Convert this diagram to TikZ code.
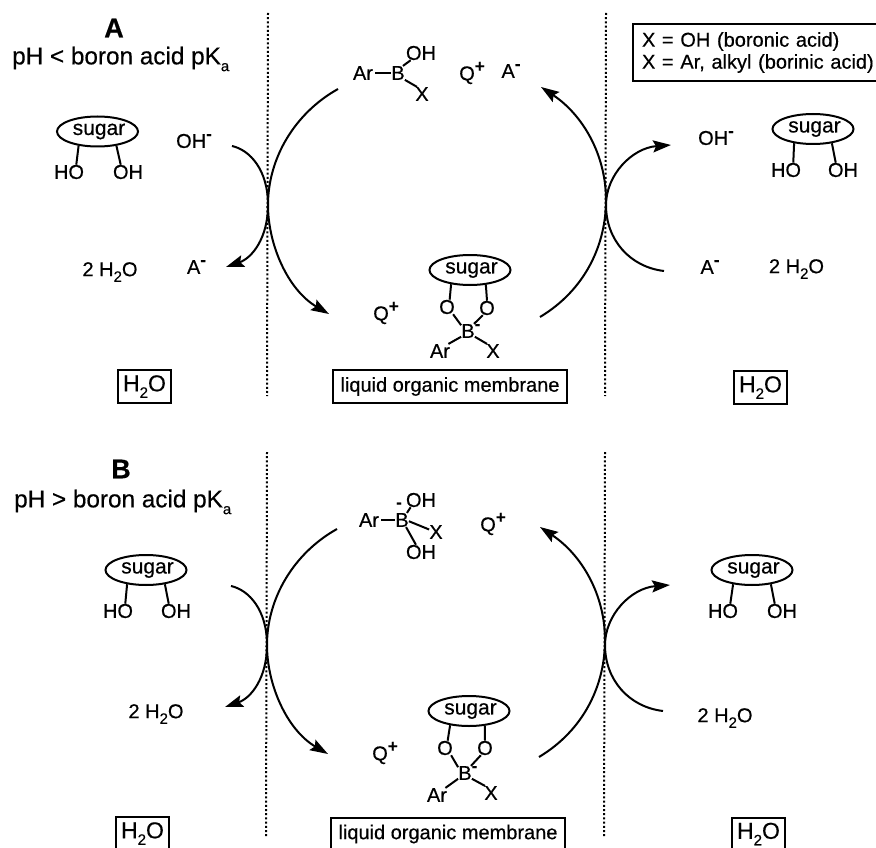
\documentclass[tikz,border=0pt]{standalone}
\usepackage{fontspec}
\setmainfont[FakeBold=0.45]{Liberation Sans}
\usetikzlibrary{arrows.meta,shapes.geometric}
\newcommand{\ssub}[1]{\raisebox{-0.28em}{\fontsize{15}{15}\selectfont #1}}
\newcommand{\ssup}[1]{\raisebox{0.42em}{\fontsize{17}{17}\selectfont\bfseries #1}}
\tikzset{
  chem/.style={inner sep=0pt, font=\fontsize{20}{22}\selectfont},
  tag/.style={chem, draw, line width=2pt, minimum height=33pt},
  watertag/.style={tag, minimum width=53pt, font=\fontsize{23}{25}\selectfont},
  sugar/.style={chem, draw, ellipse, line width=2pt, minimum width=81pt, minimum height=30pt, font=\fontsize{21}{22}\selectfont},
  heading/.style={chem, anchor=west, font=\fontsize{24.3}{26}\selectfont},
  panel/.style={chem, font=\fontsize{27}{28}\selectfont\bfseries},
  bond/.style={line width=2pt},
  membrane/.style={line width=2pt, dash pattern=on 2pt off 2.2pt},
  flowtip/.style={line width=2pt, -{Stealth[length=18pt, width=12pt, inset=3pt]}},
}
\begin{document}
\begin{tikzpicture}[x=1pt, y=-1pt]
    \useasboundingbox (0,0) rectangle (876,848);

    % membranes and arcs, same for both panels
    \foreach \p/\dx/\dy/\ya/\yb in {A/0/0/13/396, B/-1/440/12/398} {
      \begin{scope}[shift={(\dx,\dy)}]
        \coordinate (\p ml1) at (268,\ya);
        \coordinate (\p ml2) at (267,\yb);
        \coordinate (\p mr1) at (606,\ya);
        \coordinate (\p mr2) at (605,\yb);
        \draw[membrane] (\p ml1) -- (\p ml2);
        \draw[membrane] (\p mr1) -- (\p mr2);

        \coordinate (\p lbs) at (338,89);
        \coordinate (\p lbm) at (268,205);
        \coordinate (\p lbe) at (329,314);
        \coordinate (\p lss) at (232,146);
        \coordinate (\p lsm) at (268,205);
        \coordinate (\p lse) at (226,267);
        \coordinate (\p rbs) at (540,317);
        \coordinate (\p rbm) at (606,200);
        \coordinate (\p rbe) at (541,87);
        \coordinate (\p rss) at (664,271);
        \coordinate (\p rsm) at (606,205);
        \coordinate (\p rse) at (671,145);

        \draw[flowtip] (\p lbs) .. controls (295,113) and (268,158) .. (\p lbm)
                                .. controls (268,245) and (288,290) .. (\p lbe);
        \draw[flowtip] (\p lss) .. controls (250,150) and (268,170) .. (\p lsm)
                                .. controls (268,238) and (252,258) .. (\p lse);
        \draw[flowtip] (\p rbs) .. controls (585,290) and (606,245) .. (\p rbm)
                                .. controls (606,155) and (583,115) .. (\p rbe);
        \draw[flowtip] (\p rss) .. controls (630,267) and (606,240) .. (\p rsm)
                                .. controls (606,175) and (632,148) .. (\p rse);
      \end{scope}
    }

    % panel A
    \node[panel] (Atitle) at (114,28) {A};
    \node[heading] (Aph) at (12,59) {pH < boron acid pK\ssub{a}};

    \node[sugar] (Asugl) at (97.5,131.5) {\hspace*{3pt}sugar};
    \node[chem] (Ahol) at (69,172) {HO};
    \node[chem] (Aohl) at (128,172) {OH};
    \draw[bond] (Asugl.-143) -- (Ahol.45);
    \draw[bond] (Asugl.-37) -- (Aohl.135);
    \node[chem] (Aoh) at (194,141) {OH\ssup{-}};
    \node[chem] (Awl) at (110,272) {2 H\ssub{2}O};
    \node[chem] (Aal) at (196.5,267) {A\ssup{-}};
    \node[watertag] (Ah2ol) at (144.5,386.5) {H\ssub{2}O};

    \node[chem] (Aar) at (363,73) {Ar};
    \node[chem] (Ab) at (398,73) {B};
    \node[chem] (Aoh1) at (421,53) {OH};
    \node[chem] (Ax) at (422,94) {X};
    \draw[bond] (Aar.east) ++(2,0) -- (Ab.west);
    \draw[bond] (Ab.55) -- (Aoh1.-145);
    \draw[bond] (Ab.-45) -- (Ax.125);
    \node[chem] (Aqt) at (472,73) {Q\ssup{+}};
    \node[chem] (Aat) at (511,71) {A\ssup{-}};

    \node[sugar] (Asugb) at (470,270) {\hspace*{3pt}sugar};
    \node[chem] (Ao1) at (447,307) {O};
    \node[chem] (Ao2) at (487,308) {O};
    \node[chem] (Ab2) at (468,331) {B\rlap{\ssup{-}}};
    \node[chem] (Aar2) at (440,351) {Ar};
    \node[chem] (Ax2) at (493,351) {X};
    \draw[bond] (Asugb.-143) -- (Ao1.70);
    \draw[bond] (Asugb.-43) -- (Ao2.90);
    \draw[bond] (Ao1.-50) -- (Ab2.140);
    \draw[bond] (Ao2.-120) -- (Ab2.50);
    \draw[bond] (Ab2.-140) -- (Aar2.40);
    \draw[bond] (Ab2.-40) -- (Ax2.130);
    \node[chem] (Aqb) at (386,313) {Q\ssup{+}};
    \node[tag, minimum width=234pt] (Aorg) at (450,386.5) {liquid organic membrane};

    \node[chem] (Aohr) at (716,138) {OH\ssup{-}};
    \node[sugar] (Asugr) at (813,129) {\hspace*{3pt}sugar};
    \node[chem] (Ahor) at (786,170) {HO};
    \node[chem] (Aohr2) at (843,170) {OH};
    \draw[bond] (Asugr.-143) -- (Ahor.45);
    \draw[bond] (Asugr.-37) -- (Aohr2.135);
    \node[chem] (Aar3) at (710,267) {A\ssup{-}};
    \node[chem] (Awr) at (796.5,269) {2 H\ssub{2}O};
    \node[watertag] (Ah2or) at (760.5,387.5) {H\ssub{2}O};

    \node[tag, align=left, anchor=north west, minimum height=57pt, text width=250pt] (key) at (632,23)
      {\hspace*{9pt}X = OH (boronic acid)\\\hspace*{9pt}X = Ar, alkyl (borinic acid)};

    % panel B
    \node[panel] (Btitle) at (121,469) {B};
    \node[heading] (Bph) at (14,502) {pH > boron acid pK\ssub{a}};

    \node[sugar] (Bsugl) at (146,570) {\hspace*{3pt}sugar};
    \node[chem] (Bhol) at (118,611) {HO};
    \node[chem] (Bohl) at (176,611) {OH};
    \draw[bond] (Bsugl.-143) -- (Bhol.45);
    \draw[bond] (Bsugl.-37) -- (Bohl.135);
    \node[chem] (Bwl) at (156,714) {2 H\ssub{2}O};
    \node[watertag] (Bh2ol) at (142.5,833.5) {H\ssub{2}O};

    \node[chem] (Bar) at (369,520) {Ar};
    \node[chem] (Bb) at (402,520) {B};
    \node[chem] (Bm) at (399,505) {\ssup{\raisebox{-0.42em}{-}}};
    \node[chem] (Boh1) at (421,500) {OH};
    \node[chem] (Bx) at (436,532) {X};
    \node[chem] (Boh2) at (421,552) {OH};
    \draw[bond] (Bar.east) ++(2,0) -- (Bb.west);
    \draw[bond] (Bb.55) -- (Boh1.-145);
    \draw[bond] (Bb.-10) -- (Bx.160);
    \draw[bond] (Bb.-60) -- (Boh2.125);
    \node[chem] (Bqt) at (493,524) {Q\ssup{+}};

    \node[sugar] (Bsugb) at (469,711) {\hspace*{3pt}sugar};
    \node[chem] (Bo1) at (445,748) {O};
    \node[chem] (Bo2) at (485,748) {O};
    \node[chem] (Bb2) at (465,773) {B\rlap{\ssup{-}}};
    \node[chem] (Bar2) at (437,795) {Ar};
    \node[chem] (Bx2) at (491,793) {X};
    \draw[bond] (Bsugb.-143) -- (Bo1.70);
    \draw[bond] (Bsugb.-43) -- (Bo2.90);
    \draw[bond] (Bo1.-50) -- (Bb2.140);
    \draw[bond] (Bo2.-120) -- (Bb2.50);
    \draw[bond] (Bb2.-140) -- (Bar2.40);
    \draw[bond] (Bb2.-40) -- (Bx2.130);
    \node[chem] (Bqb) at (385,753) {Q\ssup{+}};
    \node[tag, minimum width=234pt] (Borg) at (448,834) {liquid organic membrane};

    \node[sugar] (Bsugr) at (752,570) {\hspace*{3pt}sugar};
    \node[chem] (Bhor) at (723,611) {HO};
    \node[chem] (Bohr) at (782,611) {OH};
    \draw[bond] (Bsugr.-143) -- (Bhor.45);
    \draw[bond] (Bsugr.-37) -- (Bohr.135);
    \node[chem] (Bwr) at (725,718) {2 H\ssub{2}O};
    \node[watertag] (Bh2or) at (758.5,834) {H\ssub{2}O};
\end{tikzpicture}
\end{document}
